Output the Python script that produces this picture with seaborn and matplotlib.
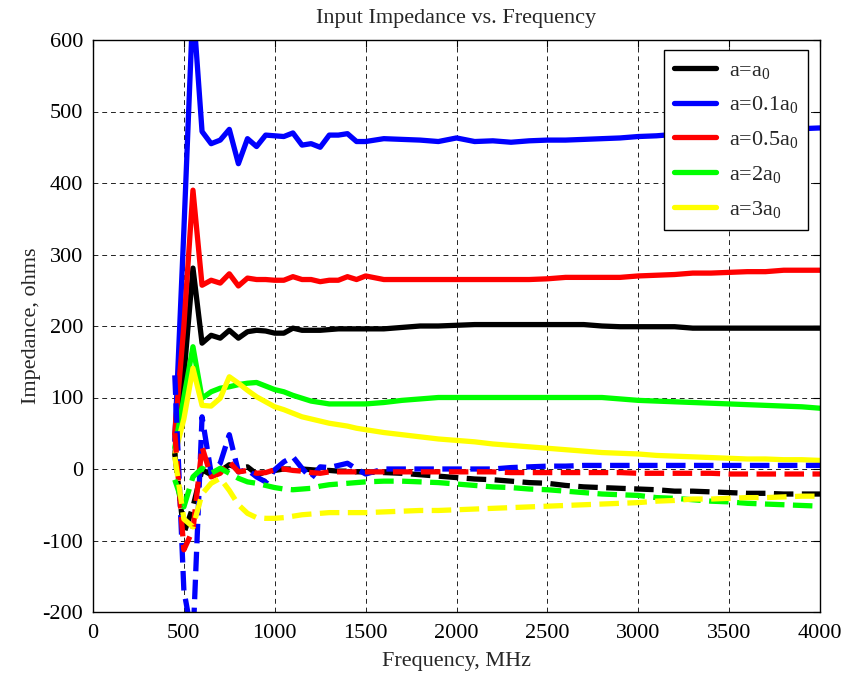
import numpy as np
import pandas as pd
import matplotlib
matplotlib.use("Agg")
import matplotlib.pyplot as plt
import seaborn as sns

# Frequency samples (MHz)
freq = [450, 500, 550, 600, 650, 700, 750, 800, 850, 900, 950, 1000, 1050, 1100,
        1150, 1200, 1250, 1300, 1350, 1400, 1450, 1500,
        1600, 1700, 1800, 1900, 2000, 2100, 2200, 2300, 2400, 2500, 2600, 2700,
        2800, 2900, 3000, 3100, 3200, 3300, 3400, 3500, 3600, 3700, 3800, 3900, 4000]

labels = ["a=a$_\\mathregular{0}$", "a=0.1a$_\\mathregular{0}$", "a=0.5a$_\\mathregular{0}$",
          "a=2a$_\\mathregular{0}$", "a=3a$_\\mathregular{0}$"]
colors = ["#000000", "#0000ff", "#ff0000", "#00ff00", "#ffff00"]

# Resistance (solid curves), ohms
r_a1 = [20, 130, 281, 176, 187, 183, 194, 183, 192, 194, 193, 190, 190, 197, 194, 194,
        194, 195, 196, 196, 196, 196,
        196, 198, 200, 200, 201, 202, 202, 202, 202, 202, 202, 202, 200, 199, 199, 199,
        199, 197, 197, 197, 197, 197, 197, 197, 197]
r_a01 = [40, 334, 650, 472, 455, 460, 475, 427, 462, 451, 467, 466, 465, 470, 453, 455,
         450, 467, 467, 469, 458, 458,
         462, 461, 460, 458, 463, 458, 459, 457, 459, 460, 460, 461, 462, 463, 465, 466,
         468, 469, 470, 471, 472, 473, 474, 476, 477]
r_a05 = [50, 200, 390, 257, 264, 260, 273, 256, 267, 265, 265, 264, 264, 269, 265, 265,
         262, 264, 264, 269, 265, 270,
         265, 265, 265, 265, 265, 265, 265, 265, 265, 266, 268, 268, 268, 268, 270, 271,
         272, 274, 274, 275, 276, 276, 278, 278, 278]
r_a2 = [30, 100, 171, 99, 108, 113, 115, 118, 120, 121, 116, 111, 108, 103, 99, 95,
        93, 91, 91, 91, 91, 91,
        93, 96, 98, 100, 100, 100, 100, 100, 100, 100, 100, 100, 100, 98, 96, 95,
        94, 93, 92, 91, 90, 89, 88, 87, 85]
r_a3 = [20, 70, 141, 89, 88, 99, 129, 120, 110, 101, 94, 87, 83, 78, 73, 70,
        67, 64, 62, 60, 57, 55,
        51, 48, 45, 42, 40, 38, 35, 33, 31, 29, 27, 25, 23, 22, 21, 19,
        18, 17, 16, 15, 14, 14, 13, 13, 12]

# Reactance (dashed curves), ohms
x_a1 = [22, -90, -53, -1, -8, -3, 6, 1, 3, -7, -5, -2, 0, 0, 0, -1,
        -2, -2, -3, -3, -4, -4,
        -5, -6, -8, -10, -12, -14, -15, -17, -19, -20, -23, -25, -26, -27, -28, -29,
        -31, -31, -32, -33, -34, -34, -35, -35, -35]
x_a01 = [131, -170, -240, 73, -6, 8, 48, -4, -1, -11, -18, -1, 10, 17, 1, -13,
         3, 2, 5, 8, 0, -7,
         0, 0, 0, 0, 0, 0, 0, 2, 3, 4, 4, 5, 5, 5, 5, 5,
         5, 5, 5, 5, 5, 5, 5, 5, 5]
x_a05 = [50, -113, -85, 31, -11, -6, 10, -4, -2, -6, -5, -1, 0, -2, -3, -5,
         -6, -4, -4, -4, -4, -4,
         -4, -4, -4, -4, -4, -4, -4, -5, -5, -5, -5, -5, -5, -5, -6, -6,
         -6, -6, -6, -7, -7, -7, -7, -7, -7]
x_a2 = [-15, -53, -11, 1, -6, 1, -6, -13, -18, -20, -23, -26, -28, -29, -28, -27,
        -24, -22, -21, -20, -19, -18,
        -17, -17, -18, -19, -21, -23, -25, -26, -28, -29, -31, -33, -35, -36, -37, -40,
        -41, -43, -45, -46, -48, -49, -50, -51, -52]
x_a3 = [17, -70, -81, -35, -20, -13, -30, -50, -62, -68, -69, -69, -68, -66, -64, -63,
        -62, -61, -61, -61, -61, -61,
        -60, -59, -58, -58, -57, -56, -55, -54, -53, -52, -51, -50, -49, -48, -47, -45,
        -44, -42, -42, -41, -40, -40, -39, -38, -38]

resistance = [r_a1, r_a01, r_a05, r_a2, r_a3]
reactance = [x_a1, x_a01, x_a05, x_a2, x_a3]

sns.set_style("white")
plt.rcParams["font.family"] = ["Liberation Serif", "DejaVu Serif"]
plt.rcParams["mathtext.fontset"] = "custom"
plt.rcParams["mathtext.rm"] = "Liberation Serif"
plt.rcParams["mathtext.it"] = "Liberation Serif:italic"
plt.rcParams["axes.unicode_minus"] = False

fs = 16
fig = plt.figure(figsize=(8.43, 6.76), dpi=100)
ax = fig.add_axes([93 / 843, 1 - 612 / 676, (820 - 93) / 843, (612 - 40) / 676])

lw = 3.8
for vals, col, lab in zip(resistance, colors, labels):
    df = pd.DataFrame({"f": freq, "z": vals})
    sns.lineplot(data=df, x="f", y="z", ax=ax, color=col, lw=lw, label=lab,
                 estimator=None, sort=False)
for vals, col in zip(reactance, colors):
    df = pd.DataFrame({"f": freq, "z": vals})
    sns.lineplot(data=df, x="f", y="z", ax=ax, color=col, lw=lw, linestyle="--",
                 estimator=None, sort=False, legend=False)

ax.set_xlim(0, 4000)
ax.set_ylim(-200, 600)
ax.set_xticks(np.arange(0, 4001, 500))
ax.set_yticks(np.arange(-200, 601, 100))
ax.grid(True, color="#222222", linestyle=(0, (5, 4)), linewidth=0.7)
ax.tick_params(direction="in", length=5, width=0.8, top=True, right=True,
               labelsize=fs, colors="black")
ax.tick_params(axis="x", pad=9)
ax.tick_params(axis="y", pad=7)
for s in ax.spines.values():
    s.set_visible(True)
    s.set_color("black")
    s.set_linewidth(1.0)

ax.set_title("Input Impedance vs. Frequency", fontsize=fs, pad=12)
ax.set_xlabel("Frequency, MHz", fontsize=fs, labelpad=6)
ax.set_ylabel("Impedance, ohms", fontsize=fs, labelpad=1)

leg = ax.legend(loc="upper right", fontsize=fs, frameon=True, fancybox=False,
                edgecolor="black", framealpha=1.0, handlelength=1.9,
                borderpad=0.45, labelspacing=0.62, handletextpad=0.55,
                borderaxespad=0, bbox_to_anchor=(0.9835, 0.9825))
leg.get_frame().set_linewidth(1.0)
for h in leg.get_lines():
    h.set_solid_capstyle("round")

fig.savefig("out.png", dpi=100)
